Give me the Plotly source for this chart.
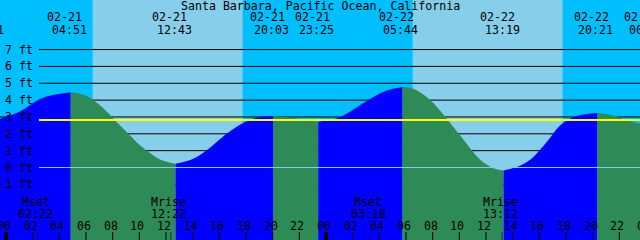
import pandas as pd
import plotly.graph_objects as go

title = "Santa Barbara, Pacific Ocean, California"

# tide extremes (high / low) -- times and heights (ft)
ext_times = ["2024-02-20 22:41", "2024-02-21 04:51", "2024-02-21 12:43", "2024-02-21 20:03",
             "2024-02-21 23:25", "2024-02-22 05:44", "2024-02-22 13:19", "2024-02-22 20:21",
             "2024-02-23 00:08"]
ext_kind = ["low", "high", "low", "high", "low", "high", "low", "high", "low"]
ext_ft = [2.62, 4.47, 0.22, 3.06, 2.72, 4.78, -0.17, 3.24, 2.50]

# tide heights (ft)
read_times = ["2024-02-20 23:33", "2024-02-21 01:03", "2024-02-21 02:33", "2024-02-21 03:33",
              "2024-02-21 06:03", "2024-02-21 07:03", "2024-02-21 08:02", "2024-02-21 09:03",
              "2024-02-21 10:03", "2024-02-21 11:02", "2024-02-21 11:33", "2024-02-21 14:03",
              "2024-02-21 15:03", "2024-02-21 16:33", "2024-02-21 17:33", "2024-02-21 18:33",
              "2024-02-21 19:33", "2024-02-21 21:33", "2024-02-22 01:03", "2024-02-22 02:33",
              "2024-02-22 03:33", "2024-02-22 04:33", "2024-02-22 06:33", "2024-02-22 07:33",
              "2024-02-22 08:33", "2024-02-22 09:33", "2024-02-22 10:33", "2024-02-22 11:33",
              "2024-02-22 12:33", "2024-02-22 14:33", "2024-02-22 15:33", "2024-02-22 16:33",
              "2024-02-22 17:33", "2024-02-22 18:33", "2024-02-22 19:33", "2024-02-22 21:33",
              "2024-02-22 22:33", "2024-02-22 23:33"]
read_ft = [2.90, 3.33, 4.07, 4.31,
           4.24, 3.69, 2.93, 2.11,
           1.32, 0.73, 0.48, 0.52,
           1.02, 2.00, 2.54, 2.89,
           3.05, 2.93, 2.99, 3.69,
           4.18, 4.57, 4.67, 4.18,
           3.38, 2.40, 1.41, 0.47,
           -0.04, 0.10, 0.63, 1.51,
           2.50, 2.99, 3.18, 3.09,
           2.80, 2.60]

sun_rise = ["2024-02-21 06:30", "2024-02-22 06:30"]
sun_set = ["2024-02-21 17:45", "2024-02-22 17:45"]

moon_times = ["2024-02-21 02:22", "2024-02-21 12:22", "2024-02-22 03:18", "2024-02-22 13:12"]
moon_kind = ["Mset", "Mrise", "Mset", "Mrise"]

ft_levels = [-1, 0, 1, 2, 3, 4, 5, 6, 7]
ft_labels = ["-1 ft", "0 ft", "1 ft", "2 ft", "3 ft", "4 ft", "5 ft", "6 ft", "7 ft"]
msl_ft = 2.82

x_range = ["2024-02-20 23:33", "2024-02-22 23:33"]
y_range = [-4.30, 9.94]

tick_times = pd.date_range("2024-02-21 00:00", "2024-02-23 00:00", freq="2h")
tick_labels = [t.strftime("%H") for t in tick_times]

# ---------------------------------------------------------------
W, H = 640, 240
x0, x1 = pd.Timestamp(x_range[0]), pd.Timestamp(x_range[1])
px_per_min = W / ((x1 - x0).total_seconds() / 60)
px_per_ft = H / (y_range[1] - y_range[0])


def shift(t, px):
    return pd.Timestamp(t) + pd.Timedelta(minutes=px / px_per_min)


def ft_at(py):
    return y_range[1] - py / px_per_ft


FONT = "DejaVu Sans Mono"
FS = 11.6
BLUE, GREEN = "#0000FF", "#2E8B57"
NIGHT, DAY = "#00BFFF", "#87CEEB"

fig = go.Figure()

# depth grid lines (under the water)
grid_x0 = shift(x0, 39)
for lv in ft_levels:
    if lv == 0:
        continue
    fig.add_trace(go.Scatter(x=[grid_x0, x1], y=[lv, lv], mode="lines",
                             line=dict(color="black", width=1),
                             hoverinfo="skip", showlegend=False))
fig.add_trace(go.Scatter(x=[x0, shift(x0, 13)], y=[3, 3], mode="lines",
                         line=dict(color="black", width=1), hoverinfo="skip", showlegend=False))

pts = sorted([(pd.Timestamp(t), v) for t, v in zip(ext_times, ext_ft)] +
             [(pd.Timestamp(t), v) for t, v in zip(read_times, read_ft)])

for i in range(len(ext_times) - 1):
    ta, tb = pd.Timestamp(ext_times[i]), pd.Timestamp(ext_times[i + 1])
    seg = [(t, v) for t, v in pts if ta <= t <= tb]
    color = BLUE if ext_kind[i + 1] == "high" else GREEN
    fig.add_trace(go.Scatter(x=[ta, tb], y=[-6, -6], mode="lines", line=dict(width=0),
                             hoverinfo="skip", showlegend=False))
    fig.add_trace(go.Scatter(x=[s[0] for s in seg], y=[s[1] for s in seg], mode="lines",
                             line=dict(width=0, shape="spline", smoothing=1),
                             fill="tonexty", fillcolor=color,
                             hoverinfo="skip", showlegend=False))

# datum (0 ft) and mean sea level lines over the water
fig.add_trace(go.Scatter(x=[grid_x0, x1], y=[0, 0], mode="lines", line=dict(color=DAY, width=1),
                         hoverinfo="skip", showlegend=False))
fig.add_trace(go.Scatter(x=[grid_x0, x1], y=[msl_ft, msl_ft], mode="lines",
                         line=dict(color="#FFFF00", width=2), hoverinfo="skip", showlegend=False))

# bottom tick marks
y_tick_top, y_tick_bot = ft_at(232), ft_at(245)
tx, ty, mx, my = [], [], [], []
for t in tick_times:
    if t.hour == 0:
        mx += [t, t, None]; my += [y_tick_bot, y_tick_top, None]
    else:
        tx += [t, t, None]; ty += [y_tick_bot, y_tick_top, None]
fig.add_trace(go.Scatter(x=tx, y=ty, mode="lines", line=dict(color="black", width=1),
                         hoverinfo="skip", showlegend=False))
fig.add_trace(go.Scatter(x=mx, y=my, mode="lines", line=dict(color="black", width=4),
                         hoverinfo="skip", showlegend=False))
mtx, mty = [], []
for t in moon_times:
    mtx += [t, t, None]; mty += [y_tick_bot, y_tick_top, None]
fig.add_trace(go.Scatter(x=mtx, y=mty, mode="lines", line=dict(color="rgba(0,0,0,0.55)", width=1),
                         hoverinfo="skip", showlegend=False))

annotations = []


def label(t, py, text, dx):
    """Text anchored at time t on the x axis (clamped to the visible range, the
    remainder applied as a pixel shift) and at pixel row py."""
    t = pd.Timestamp(t)
    tc = min(max(t, x0), x1)
    extra = (t - tc).total_seconds() / 60 * px_per_min
    annotations.append(dict(text=text, xref="x", yref="paper", x=tc, y=1 - py / H,
                            xanchor="center", yanchor="middle", xshift=dx + extra,
                            showarrow=False, font=dict(family=FONT, size=FS, color="black")))


for t, lab in zip(tick_times, tick_labels):
    label(t, 225.5, lab, -2)
for t, k in zip(moon_times, moon_kind):
    label(t, 201.7, k, -2)
    label(t, 213.8, pd.Timestamp(t).strftime("%H:%M"), -2)
for t in ext_times:
    label(t, 17.3, pd.Timestamp(t).strftime("%m-%d"), -6)
    label(t, 29.7, pd.Timestamp(t).strftime("%H:%M"), -1.5)

annotations.append(dict(text=title, xref="paper", yref="paper", x=0.5, y=1 - 6 / H,
                        xanchor="center", yanchor="middle", showarrow=False,
                        font=dict(family=FONT, size=FS, color="black")))
for lv, lab in zip(ft_levels, ft_labels):
    annotations.append(dict(text=lab, xref="paper", yref="y", x=35 / W, y=lv,
                            xanchor="right", yanchor="middle", showarrow=False,
                            font=dict(family=FONT, size=FS, color="black")))

shapes = []
for a, b in zip(sun_rise, sun_set):
    shapes.append(dict(type="rect", xref="x", yref="paper", x0=a, x1=b, y0=0, y1=1,
                       fillcolor=DAY, line=dict(width=0), layer="below"))

fig.update_layout(
    width=W, height=H, margin=dict(l=0, r=0, t=0, b=0),
    plot_bgcolor=NIGHT, paper_bgcolor=NIGHT,
    xaxis=dict(type="date", range=x_range, visible=False, showgrid=False, zeroline=False),
    yaxis=dict(range=y_range, visible=False, showgrid=False, zeroline=False),
    shapes=shapes, annotations=annotations, showlegend=False,
)
fig.write_html("out.html", config={"displayModeBar": False})
